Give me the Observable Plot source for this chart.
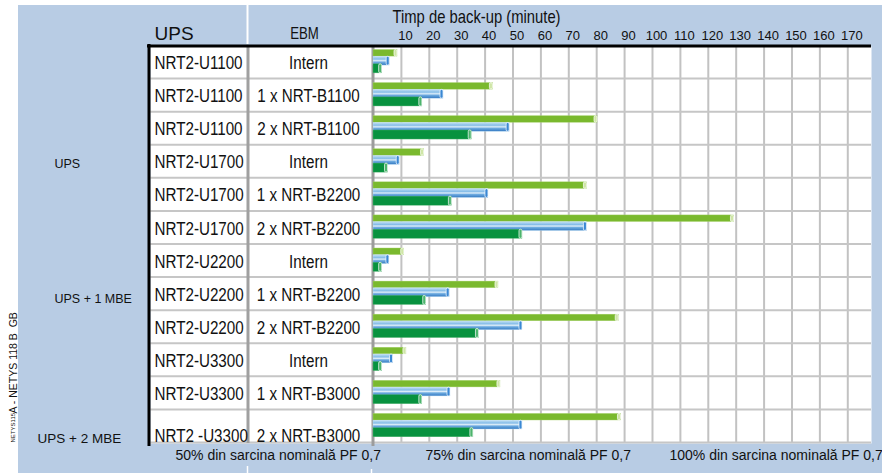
<!DOCTYPE html>
<html>
<head>
<meta charset="utf-8">
<script src="https://cdn.jsdelivr.net/npm/d3@7"></script>
<script src="https://cdn.jsdelivr.net/npm/@observablehq/plot@0.6"></script>
<style>
  html, body { margin: 0; padding: 0; background: white; }
  #wrap { position: relative; width: 882px; height: 473px; overflow: hidden; }
  #bg { position: absolute; left: 18px; top: 5px; right: 0; bottom: 0; background: #b8cce4; }
  #chart { position: absolute; left: 0; top: 0; }
</style>
</head>
<body>
<svg width="0" height="0" style="position:absolute">
  <defs>
    <linearGradient id="blueGrad" x1="0" y1="0" x2="0" y2="1">
      <stop offset="0" stop-color="#c4e1f5"/>
      <stop offset="0.32" stop-color="#86bde8"/>
      <stop offset="0.5" stop-color="#dcedf9"/>
      <stop offset="0.66" stop-color="#6eabe0"/>
      <stop offset="1" stop-color="#3479c2"/>
    </linearGradient>
  </defs>
</svg>
<div id="wrap"><div id="bg"></div><div id="chart"></div></div>
<script>
// ---- data ----
const upsModels = ["NRT2-U1100","NRT2-U1100","NRT2-U1100","NRT2-U1700","NRT2-U1700","NRT2-U1700",
                   "NRT2-U2200","NRT2-U2200","NRT2-U2200","NRT2-U3300","NRT2-U3300","NRT2 -U3300"];
const ebmModels = ["Intern","1 x NRT-B1100","2 x NRT-B1100","Intern","1 x NRT-B2200","2 x NRT-B2200",
                   "Intern","1 x NRT-B2200","2 x NRT-B2200","Intern","1 x NRT-B3000","2 x NRT-B3000"];
const seriesNames = ["50% din sarcina nominală PF 0,7","75% din sarcina nominală PF 0,7","100% din sarcina nominală PF 0,7"];
const backup50  = [8.6, 42.8, 80.3, 18.1, 76.5, 129.2, 11.0, 44.8, 87.9, 11.8, 45.5, 88.7];
const backup75  = [5.8, 25.1, 48.8,  9.4, 41.2,  76.5,  5.7, 27.3, 53.4,  7.0, 27.6, 53.4];
const backup100 = [3.1, 17.5, 35.2,  5.2, 28.1,  53.4,  3.1, 18.9, 37.8,  3.1, 17.5, 35.8];
const tickValues = [10,20,30,40,50,60,70,80,90,100,110,120,130,140,150,160,170];
const groupLabels = ["UPS","UPS + 1 MBE","UPS + 2 MBE"];
const headerUPS = "UPS";
const headerEBM = "EBM";
const axisTitle = "Timp de back-up (minute)";
const sideNoteSmall = "NETYS115";
const sideNoteBig = "A - NETYS 118 B  GB";

// ---- table built from arrays ----
const rows = upsModels.map((u, i) => ({
  i, ups: u, ebm: ebmModels[i], v50: backup50[i], v75: backup75[i], v100: backup100[i]
}));
const last = rows.length - 1;

const regular = "'Liberation Sans', Arial, sans-serif";

const seriesStyle = [
  {key: "v50",  fill: "#7ab92e", cap: "#cfe6a6", top: 3.5, bottom: 23, stroke: "#a9d36f"},
  {key: "v75",  fill: "url(#blueGrad)", cap: "#3a88d4", top: 10.3, bottom: 14, stroke: "#b9dcf3"},
  {key: "v100", fill: "#08923f", cap: "#4cb46c", top: 17.8, bottom: 6.2, stroke: "#5cb878"}
];

const barMarks = seriesStyle.flatMap(s => [
  Plot.rect(rows, {x1: 0, x2: s.key, y1: d => d.i, y2: d => d.i + 1,
    insetTop: s.top, insetBottom: s.bottom, fill: s.fill, stroke: s.stroke, strokeWidth: 0.4}),
  Plot.rect(rows, {x1: s.key, x2: s.key, y1: d => d.i, y2: d => d.i + 1,
    insetTop: s.top, insetBottom: s.bottom, insetLeft: -3, insetRight: 0, rx: 1.5,
    fill: s.cap, stroke: "white", strokeWidth: 0.7})
]);

const groupAnchor = [{row: 3.54, dx: -96, fs: 12.5}, {row: 7.62, dx: -96, fs: 12.5}, {row: 11.85, dx: -113, fs: 13.5}];
const rowY = d => d.i + (d.i === last ? 0.78 : 0.5);

const plot = Plot.plot({
  width: 882,
  height: 473,
  marginLeft: 150,
  marginRight: 11,
  marginTop: 46,
  marginBottom: 30,
  style: {background: "transparent", fontFamily: regular, color: "#000"},
  x: {domain: [0, 178.5], range: [373, 871], axis: null},
  y: {domain: [0, 12], range: [46, 443], axis: null},
  marks: [
    Plot.frame({fill: "white", stroke: "none"}),
    // vertical gridlines
    Plot.ruleX(tickValues, {x: d => d, stroke: "#c2c2c2", strokeWidth: 2}),
    // row separators
    Plot.ruleY(d3.range(1, 13), {y: d => d, dy: -1, stroke: "#c6c6c6", strokeWidth: 2}),
    // column separators
    Plot.ruleX([0], {x: d => d, dx: -125.5, stroke: "#a0a0a0", strokeWidth: 3}),
    Plot.ruleX([0], {x: d => d, dx: -0.5, stroke: "#9c9c9c", strokeWidth: 3, insetBottom: -3}),
    // header / footer white separator lines
    Plot.ruleX([0], {x: d => d, dx: -126, stroke: "white", strokeWidth: 2, insetTop: -41, insetBottom: 399}),
    Plot.ruleX([0], {x: d => d, dx: -126, stroke: "white", strokeWidth: 1.5, insetTop: 420, insetBottom: -30}),
    Plot.ruleX([0], {x: d => d, dx: -2, stroke: "white", strokeWidth: 1.5, insetTop: 423, insetBottom: -30}),
    // black borders
    Plot.ruleX([0], {x: d => d, dx: -224.5, stroke: "black", strokeWidth: 3, insetTop: -2, insetBottom: -3}),
    Plot.ruleY([0], {y: d => d, dy: -0.5, stroke: "black", strokeWidth: 3, insetLeft: -3}),
    // bars
    ...barMarks,
    // table text
    Plot.text(rows, {y: rowY, text: "ups", frameAnchor: "left", lineAnchor: "middle",
      dx: 4, textAnchor: "start", fontSize: 19, fill: "#111"}),
    Plot.text(rows, {y: rowY, text: "ebm", frameAnchor: "left", lineAnchor: "middle",
      dx: 158, textAnchor: "middle", fontSize: 19, fill: "#111"}),
    // headers
    Plot.text([headerUPS], {text: d => d, frameAnchor: "top-left", lineAnchor: "middle", dx: 4, dy: -13,
      textAnchor: "start", fontSize: 19, fill: "#111"}),
    Plot.text([headerEBM], {text: d => d, frameAnchor: "top-left", lineAnchor: "middle", dx: 154, dy: -13,
      textAnchor: "middle", fontSize: 16.5, fill: "#111"}),
    Plot.text([axisTitle], {text: d => d, frameAnchor: "top-left", lineAnchor: "middle", dx: 242, dy: -29,
      textAnchor: "start", fontSize: 18.5, fill: "#111"}),
    // tick labels
    Plot.text(tickValues, {x: d => d, text: d => String(d), frameAnchor: "top", lineAnchor: "middle",
      dy: -11, dx: 4, fontSize: 13, fill: "#111"}),
    // group labels
    ...groupLabels.map((g, k) => Plot.text([g], {text: d => d, y: () => groupAnchor[k].row,
      frameAnchor: "left", lineAnchor: "middle", dx: groupAnchor[k].dx, textAnchor: "start",
      fontSize: groupAnchor[k].fs, fill: "#111"})),
    // side note
    Plot.text([sideNoteSmall], {text: d => d, frameAnchor: "bottom-left", lineAnchor: "middle", rotate: -90,
      textAnchor: "start", dx: -137, dy: -1, fontSize: 6, fill: "#111"}),
    Plot.text([sideNoteBig], {text: d => d, frameAnchor: "bottom-left", lineAnchor: "middle", rotate: -90,
      textAnchor: "start", dx: -137, dy: -30, fontSize: 10.5, fill: "#111"}),
    // series legend
    ...seriesNames.map((s, k) => Plot.text([s], {text: d => d, frameAnchor: "bottom-left", lineAnchor: "middle",
      dx: [25, 275, 519][k], dy: 12, textAnchor: "start", fontSize: 14, fill: "#111"}))
  ]
});

// the original table uses a condensed face: squeeze those texts horizontally around their own anchors
plot.querySelectorAll("text").forEach(t => {
  const content = t.textContent;
  const isNarrow = upsModels.includes(content) || ebmModels.includes(content) ||
                   content === headerEBM || content === axisTitle;
  if (!isNarrow) return;
  let tr = t.getAttribute("transform");
  if (!tr) {
    const x = t.getAttribute("x") || 0, y = t.getAttribute("y") || 0;
    t.removeAttribute("x"); t.removeAttribute("y");
    tr = `translate(${x},${y})`;
  }
  t.setAttribute("transform", tr + " scale(0.8,1)");
});

document.getElementById("chart").appendChild(plot);
</script>
</body>
</html>
